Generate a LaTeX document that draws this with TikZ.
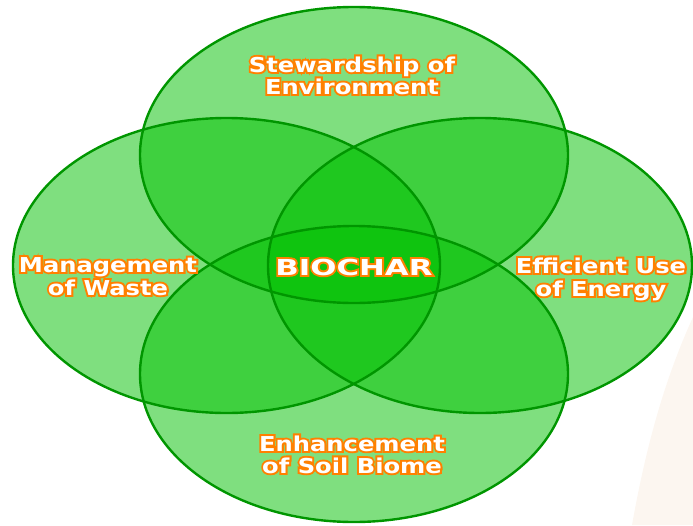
\documentclass[tikz,border=0pt]{standalone}
\usepackage{fontspec}
\newfontfamily\lblfont[FakeStretch=1.18]{DejaVu Sans Bold}
\newfontfamily\lblfontol[FakeStretch=1.18,FakeBold=19]{DejaVu Sans Bold}
\newfontfamily\bigfont[FakeStretch=1.4]{DejaVu Sans Bold}
\newfontfamily\bigfontol[FakeStretch=1.4,FakeBold=17]{DejaVu Sans Bold}
\definecolor{ringfill}{RGB}{0,192,0}
\definecolor{ringline}{RGB}{0,150,0}
\definecolor{lbloutline}{RGB}{255,128,0}
\definecolor{beige}{RGB}{252,246,240}
\newcommand{\olbl}[1]{\leavevmode\rlap{\lblfontol\fontsize{20.5}{22}\selectfont\color{lbloutline}#1}#1}
\newcommand{\obig}[1]{\leavevmode\rlap{\bigfontol\fontsize{22}{24}\selectfont\color{lbloutline}#1}#1}
\tikzset{
  ring/.style={fill=ringfill,fill opacity=0.5,draw=none},
  ringedge/.style={draw=ringline,line width=2.4pt},
  lbl/.style={text=white,font=\lblfont\fontsize{20.5}{22}\selectfont,align=center,inner sep=0pt},
  biglbl/.style={text=white,font=\bigfont\fontsize{22}{24}\selectfont,inner sep=0pt}
}
\begin{document}
\begin{tikzpicture}[x=1pt,y=-1pt]
\useasboundingbox (0,0) rectangle (693,525);
\fill[beige] (632,525) .. controls (648,435) and (668,372) .. (693,317) -- (693,525) -- cycle;
% fills
\path[ring] (354,155) ellipse [x radius=214pt, y radius=148pt];
\path[ring] (226.5,265.5) ellipse [x radius=213.5pt, y radius=147.5pt];
\path[ring] (480,265.5) ellipse [x radius=212pt, y radius=147.5pt];
\path[ring] (354,374) ellipse [x radius=214pt, y radius=148pt];
% edges
\draw[ringedge] (354,155) ellipse [x radius=214pt, y radius=148pt];
\draw[ringedge] (226.5,265.5) ellipse [x radius=213.5pt, y radius=147.5pt];
\draw[ringedge] (480,265.5) ellipse [x radius=212pt, y radius=147.5pt];
\draw[ringedge] (354,374) ellipse [x radius=214pt, y radius=148pt];
% labels
\node[lbl,anchor=base] (stew1) at (352,72) {\olbl{Stewardship of}};
\node[lbl,anchor=base] (stew2) at (352,94) {\olbl{Environment}};
\node[lbl,anchor=base] (man1) at (108,272) {\olbl{Management}};
\node[lbl,anchor=base] (man2) at (108,295) {\olbl{of Waste}};
\node[lbl,anchor=base] (eff1) at (601,273) {\olbl{Efficient Use}};
\node[lbl,anchor=base] (eff2) at (601,296) {\olbl{of Energy}};
\node[lbl,anchor=base] (enh1) at (352,451) {\olbl{Enhancement}};
\node[lbl,anchor=base] (enh2) at (352,473) {\olbl{of Soil Biome}};
\node[biglbl,anchor=base] (bio) at (354,275) {\obig{BIOCHAR}};
\end{tikzpicture}
\end{document}
